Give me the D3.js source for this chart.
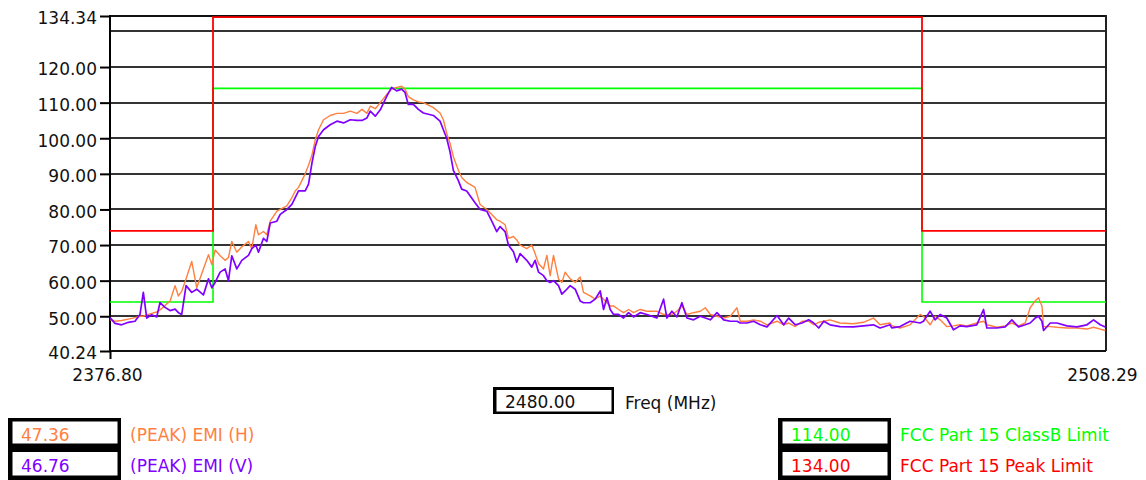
<!DOCTYPE html>
<html><head><meta charset="utf-8">
<script src="https://cdn.jsdelivr.net/npm/d3@7"></script>
<style>html,body{margin:0;padding:0;background:#fff;} svg{display:block;font-family:"DejaVu Sans",sans-serif;}</style>
</head><body><svg id="c" width="1146" height="480"></svg>
<script>
const freqs = [2376.80,2377.46,2378.34,2379.22,2380.10,2380.76,2381.20,2381.65,2382.30,2382.97,2383.40,2384.07,2384.73,2385.39,2385.83,2386.27,2386.84,2387.59,2388.25,2389.13,2389.80,2390.24,2390.68,2391.34,2392.00,2392.44,2392.88,2393.54,2394.20,2395.08,2395.52,2396.05,2396.40,2397.06,2397.50,2397.95,2398.83,2399.27,2400.15,2400.81,2401.25,2401.69,2402.57,2403.01,2403.45,2403.89,2404.33,2404.99,2405.87,2406.76,2407.64,2408.52,2409.40,2410.06,2410.72,2411.16,2411.82,2412.48,2413.36,
2413.98,2414.64,2415.30,2415.74,2416.18,2416.85,2417.51,2418.17,2419.49,2420.37,2420.81,2421.25,2421.69,2422.13,2422.79,2423.23,2423.89,2424.99,2425.66,2426.54,2427.20,2427.86,2428.30,2428.96,2429.40,2430.06,2430.50,2430.94,2431.82,2432.48,2432.92,2433.37,2434.03,2434.47,2434.91,2435.35,2436.01,2436.45,2436.89,2437.55,2438.21,2438.87,2439.31,2440.19,2440.85,2441.52,2441.96,2442.40,2442.84,2443.28,2443.94,2444.60,2445.26,2445.92,2446.80,
2447.68,2449.00,2449.88,2450.32,2450.98,2451.64,2452.30,2452.96,2453.84,2454.73,2455.39,2456.05,2456.93,2457.81,2458.69,2459.57,2460.01,2460.89,2461.77,2462.65,2463.54,2464.86,2465.74,2466.40,2467.28,2468.16,2469.04,2469.70,2470.37,2471.03,
2471.85,2473.17,2474.93,2476.26,2477.58,2478.46,2479.78,2480.00,2481.10,2482.42,2483.75,2484.19,2485.07,2485.73,2486.39,2487.27,2488.15,2489.03,2489.91,2491.23,2492.12,2492.56,2493.88,2494.98,2495.86,2496.74,2497.62,2498.28,2498.94,2499.38,2499.83,2500.05,2500.93,2501.81,2503.13,2504.45,2505.77,2506.65,2507.53,2508.20];

const emiH = [49.0,48.6,48.8,49.2,49.6,50.0,50.0,50.4,50.8,51.2,51.8,53.0,54.3,58.6,55.7,57.0,60.5,65.4,58.0,63.3,67.3,64.5,68.6,67.0,65.7,66.5,71.0,68.0,69.5,71.0,69.0,75.7,72.9,73.8,72.9,76.7,79.5,80.0,81.0,83.3,85.2,86.2,90.0,92.4,95.2,99.5,102.4,105.2,106.4,107.0,107.0,107.6,107.0,108.1,107.0,109.0,108.3,110.0,112.4,
113.8,114.3,114.6,113.8,111.7,110.8,110.2,110.0,108.6,107.1,105.2,101.4,98.6,94.8,91.0,89.0,87.6,86.2,81.4,80.0,78.6,77.1,76.7,75.7,71.9,72.4,71.4,70.0,69.0,70.0,67.6,64.8,63.3,67.1,61.4,67.1,60.5,59.5,62.4,60.5,59.5,61.0,56.7,55.7,54.8,55.7,54.8,53.8,52.9,52.9,51.9,51.0,51.9,51.0,51.9,
51.4,51.4,50.5,50.5,50.5,51.4,52.9,50.5,51.0,51.4,52.4,50.5,50.0,49.5,50.0,52.4,48.6,48.6,49.0,48.6,47.6,48.6,47.6,48.1,47.1,48.6,48.6,47.6,48.3,48.6,
49.0,48.1,47.9,48.3,49.5,47.6,48.1,47.36,46.7,47.6,50.5,50.0,47.6,50.0,49.0,47.1,47.3,47.6,47.3,48.1,48.6,47.6,46.9,47.3,48.1,47.3,48.1,52.4,54.3,55.2,52.9,47.1,47.1,46.9,46.7,46.7,46.4,46.9,46.4,46.0];

const emiV = [49.6,48.0,47.6,48.3,48.6,50.5,56.7,49.5,50.4,49.8,53.8,52.5,51.6,52.0,51.0,50.5,58.6,56.7,57.6,56.0,60.5,58.0,59.5,62.4,63.3,60.0,67.0,63.3,65.7,67.1,69.0,70.0,68.0,71.9,71.0,76.2,76.7,78.6,80.0,81.4,83.3,85.2,85.2,87.1,92.9,97.6,100.5,102.4,103.8,104.8,104.3,105.2,105.0,105.0,105.7,107.6,106.2,108.0,111.9,
114.3,113.3,113.8,112.9,109.5,109.5,108.1,107.1,106.4,104.8,102.4,100.0,96.2,91.0,88.1,85.7,85.2,81.9,80.0,79.5,76.7,73.8,75.2,73.8,70.0,68.1,65.2,67.6,65.7,63.8,65.7,62.4,61.4,60.0,59.5,60.0,58.6,56.2,57.1,58.6,57.6,54.3,53.8,53.8,54.8,57.1,51.9,55.2,51.9,50.5,50.5,49.5,51.0,49.8,51.0,
50.5,49.5,54.8,49.5,51.4,49.8,53.8,49.5,49.0,50.0,49.5,49.0,51.0,49.0,48.6,48.6,48.1,48.1,48.6,47.6,47.0,50.2,47.6,49.5,47.6,48.1,49.0,48.1,46.7,48.6,
47.6,47.1,47.0,47.3,47.6,46.7,47.6,46.76,47.1,48.6,48.1,48.6,51.4,49.0,50.5,49.5,46.2,47.3,47.1,47.6,51.9,46.7,46.7,47.0,49.0,47.0,47.6,48.1,49.5,50.0,48.6,46.0,48.1,48.1,47.3,47.0,47.6,49.0,47.6,47.0];

const limitFreqs = [2376.80, 2390.40, 2484.00, 2508.29];
const peakLimit = [74, 134, 74, 74];
const classBLimit = [54, 114, 54, 54];
const yTicks = [40.24, 50, 60, 70, 80, 90, 100, 110, 120, 134.34];
const gridValues = [50, 60, 70, 80, 90, 100, 110, 120, 130];
const xTicks = [2376.80, 2508.29];
const markerFreq = 2480.00;
const axisTitle = "Freq (MHz)";
const readouts = [47.36, 46.76, 114.00, 134.00];
const seriesNames = ["(PEAK) EMI (H)", "(PEAK) EMI (V)", "FCC Part 15 ClassB Limit", "FCC Part 15 Peak Limit"];
const colors = ["#ff7f3f", "#8000ff", "#00ff00", "#ff0000"];

const svg = d3.select("#c");
const L = 110, R = 1106, T = 16, B = 351;
const x = d3.scaleLinear().domain([xTicks[0], xTicks[1]]).range([L, R]);
const y = d3.scaleLinear().domain([yTicks[0], yTicks[yTicks.length-1]]).range([B, T]);
const fmt = d3.format(".2f");

svg.append("defs").append("clipPath").attr("id", "plot")
  .append("rect").attr("x", L).attr("y", T - 2).attr("width", R - L).attr("height", B - T + 2);

// grid
svg.append("g").selectAll("line").data(gridValues).join("line")
  .attr("x1", L).attr("x2", R).attr("y1", d => Math.round(y(d))).attr("y2", d => Math.round(y(d)))
  .attr("stroke", "#333").attr("stroke-width", 2);

// frame
svg.append("line").attr("x1", L).attr("x2", R).attr("y1", T).attr("y2", T).attr("stroke", "#111").attr("stroke-width", 2);
svg.append("line").attr("x1", R).attr("x2", R).attr("y1", T-1).attr("y2", B).attr("stroke", "#222").attr("stroke-width", 2);
svg.append("line").attr("x1", L).attr("x2", R).attr("y1", B).attr("y2", B).attr("stroke", "#111").attr("stroke-width", 2);
svg.append("line").attr("x1", L).attr("x2", L).attr("y1", T-1).attr("y2", B).attr("stroke", "#000").attr("stroke-width", 2);

// y axis
const ya = svg.append("g").attr("transform", `translate(${L},0)`)
  .call(d3.axisLeft(y).tickValues(yTicks).tickFormat(fmt).tickSize(10).tickPadding(3));
ya.select(".domain").remove();
ya.selectAll(".tick line").attr("stroke", "#000").attr("stroke-width", 2);
ya.selectAll(".tick text").attr("fill", "#111").attr("font-size", 17).attr("dy", "0.46em")
  .attr("font-family", "DejaVu Sans");

// x axis
const xa = svg.append("g").attr("transform", `translate(0,${B})`)
  .call(d3.axisBottom(x).tickValues(xTicks).tickFormat(fmt).tickSize(8).tickPadding(10));
xa.select(".domain").remove();
xa.selectAll(".tick line").attr("stroke", "#000").attr("stroke-width", 2)
  .attr("display", (d, i) => i === 0 ? null : "none");
xa.selectAll(".tick text").attr("fill", "#111").attr("font-size", 17).attr("font-family", "DejaVu Sans")
  .attr("dx", (d, i) => i === 0 ? -3 : -4);

const plot = svg.append("g").attr("clip-path", "url(#plot)");

// limit lines
const stepLine = d3.line().x(d => x(d[0])).y(d => y(d[1])).curve(d3.curveStepAfter);
plot.append("path").datum(limitFreqs.map((f, i) => [f, classBLimit[i]]))
  .attr("d", stepLine).attr("fill", "none").attr("stroke", colors[2]).attr("stroke-width", 1.6);
plot.append("path").datum(limitFreqs.map((f, i) => [f, peakLimit[i]]))
  .attr("d", stepLine).attr("fill", "none").attr("stroke", colors[3]).attr("stroke-width", 1.8);

// series
const line = d3.line().x(d => x(d[0])).y(d => y(d[1]));
plot.append("path").datum(freqs.map((f, i) => [f, emiH[i]]))
  .attr("d", line).attr("fill", "none").attr("stroke", colors[0]).attr("stroke-width", 1.4).attr("stroke-linejoin", "round");
plot.append("path").datum(freqs.map((f, i) => [f, emiV[i]]))
  .attr("d", line).attr("fill", "none").attr("stroke", colors[1]).attr("stroke-width", 1.7).attr("stroke-linejoin", "round");

// marker readout
const mk = svg.append("g");
mk.append("rect").attr("x", 493).attr("y", 387).attr("width", 121).attr("height", 27).attr("fill", "#000");
mk.append("rect").attr("x", 496.5).attr("y", 390).attr("width", 115).attr("height", 21.5).attr("fill", "#fff");
mk.append("text").attr("x", 505).attr("y", 408).attr("font-size", 17).attr("fill", "#111").text(fmt(markerFreq));
mk.append("text").attr("x", 625).attr("y", 409).attr("font-size", 17).attr("fill", "#111").text(axisTitle);

// legend
const groups = [{x: 8, items: [0, 1]}, {x: 778, items: [2, 3]}];
groups.forEach(g => {
  const lg = svg.append("g");
  lg.append("rect").attr("x", g.x).attr("y", 418).attr("width", 113).attr("height", 62).attr("fill", "#000");
  g.items.forEach((k, j) => {
    const top = j === 0 ? 421.5 : 452;
    const h = j === 0 ? 22 : 23.5;
    lg.append("rect").attr("x", g.x + 4.5).attr("y", top).attr("width", 105).attr("height", h).attr("fill", "#fff");
    lg.append("text").attr("x", g.x + 13).attr("y", j === 0 ? 441 : 471.5).attr("font-size", 17)
      .attr("fill", colors[k]).text(fmt(readouts[k]));
    lg.append("text").attr("x", g.x + 122).attr("y", j === 0 ? 441 : 471.5).attr("font-size", 17)
      .attr("fill", colors[k]).text(seriesNames[k]);
  });
});
</script></body></html>
